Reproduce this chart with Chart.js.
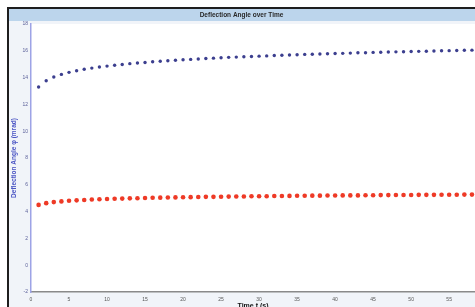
<!DOCTYPE html>
<html>
<head>
<meta charset="utf-8">
<script src="https://cdn.jsdelivr.net/npm/chart.js@4.4.0/dist/chart.umd.min.js"></script>
<style>
    html, body { margin: 0; padding: 0; background: #ffffff; }
    #wrap { width: 475px; height: 307px; position: relative; }
</style>
</head>
<body>
<div id="wrap"><canvas id="angleChart"></canvas></div>
<script>
// time in seconds
const timeS = [1, 2, 3, 4, 5, 6, 7, 8, 9, 10, 11, 12, 13, 14, 15, 16, 17, 18, 19, 20,
    21, 22, 23, 24, 25, 26, 27, 28, 29, 30, 31, 32, 33, 34, 35, 36, 37, 38, 39, 40,
    41, 42, 43, 44, 45, 46, 47, 48, 49, 50, 51, 52, 53, 54, 55, 56, 57, 58];

// upper series (blue)
const upperAngle = [13.30, 13.77, 14.04, 14.24, 14.39, 14.51, 14.62, 14.71, 14.79, 14.86,
    14.92, 14.98, 15.04, 15.09, 15.13, 15.18, 15.22, 15.26, 15.29, 15.33,
    15.36, 15.39, 15.42, 15.45, 15.48, 15.51, 15.53, 15.56, 15.58, 15.60,
    15.62, 15.65, 15.67, 15.69, 15.71, 15.73, 15.74, 15.76, 15.78, 15.80,
    15.81, 15.83, 15.85, 15.86, 15.88, 15.89, 15.91, 15.92, 15.93, 15.95,
    15.96, 15.97, 15.99, 16.00, 16.01, 16.02, 16.04, 16.05];

// lower series (red)
const lowerAngle = [4.50, 4.63, 4.71, 4.76, 4.81, 4.84, 4.87, 4.90, 4.92, 4.94,
    4.96, 4.97, 4.99, 5.00, 5.01, 5.03, 5.04, 5.05, 5.06, 5.07,
    5.08, 5.09, 5.10, 5.10, 5.11, 5.12, 5.13, 5.13, 5.14, 5.15,
    5.15, 5.16, 5.16, 5.17, 5.18, 5.18, 5.19, 5.19, 5.20, 5.20,
    5.21, 5.21, 5.21, 5.22, 5.22, 5.23, 5.23, 5.24, 5.24, 5.24,
    5.25, 5.25, 5.25, 5.26, 5.26, 5.26, 5.27, 5.27];

const yTicks = [-2, 0, 2, 4, 6, 8, 10, 12, 14, 16, 18];
const xTicks = [0, 5, 10, 15, 20, 25, 30, 35, 40, 45, 50, 55];

function toPoints(xs, ys) {
    return xs.map((x, i) => ({ x: x, y: ys[i] }));
}

// window frame, title bar and grey margins behind the plot
const framePlugin = {
    id: 'frame',
    beforeDraw(chart) {
        const c = chart.ctx;
        const a = chart.chartArea;
        c.save();
        c.fillStyle = '#ffffff';
        c.fillRect(0, 0, chart.width, chart.height);
        c.fillStyle = '#f1f4f9';
        c.fillRect(9, 9, chart.width - 9, chart.height - 9);
        c.fillStyle = '#ffffff';
        c.fillRect(a.left, a.top, a.right - a.left, a.bottom - a.top);
        c.fillStyle = '#bcd5ec';
        c.fillRect(9, 9, chart.width - 9, 12);
        c.fillStyle = '#1e1e1e';
        c.fillRect(7, 7, chart.width - 7, 2);
        c.fillRect(7, 7, 2, chart.height - 7);
        c.restore();
    }
};

document.addEventListener("DOMContentLoaded", function () {
    const ctx = document.getElementById('angleChart').getContext('2d');
    new Chart(ctx, {
        type: 'scatter',
        data: {
            datasets: [{
                label: 'upper',
                data: toPoints(timeS, upperAngle),
                backgroundColor: '#3c3f8f',
                borderColor: '#3c3f8f',
                pointRadius: 1.7,
                pointBorderWidth: 0,
                showLine: false
            }, {
                label: 'lower',
                data: toPoints(timeS, lowerAngle),
                backgroundColor: '#ee3a26',
                borderColor: '#ee3a26',
                pointRadius: 2.3,
                pointBorderWidth: 0,
                showLine: false
            }]
        },
        options: {
            responsive: true,
            maintainAspectRatio: false,
            animation: false,
            layout: { autoPadding: false, padding: { left: 8, right: 0, top: 0, bottom: 0 } },
            plugins: {
                legend: { display: false },
                tooltip: { enabled: false },
                title: {
                    display: true,
                    text: 'Deflection Angle over Time',
                    color: '#2a2a2a',
                    font: { family: 'Arial, Liberation Sans', size: 6.5, weight: 'bold' },
                    padding: { top: 11, bottom: 5.2 }
                }
            },
            scales: {
                x: {
                    type: 'linear',
                    min: 0,
                    max: 58.4,
                    afterBuildTicks: function (axis) {
                        axis.ticks = xTicks.map(v => ({ value: v }));
                    },
                    afterFit: function (axis) { axis.height = 15; },
                    grid: { display: false, drawTicks: false },
                    border: { display: true, color: '#8a8a8a', width: 1.5, dash: [1.5, 1] },
                    ticks: {
                        color: '#555555',
                        font: { family: 'Arial, Liberation Sans', size: 5 },
                        padding: 5,
                        maxRotation: 0,
                        autoSkip: false
                    },
                    title: {
                        display: true,
                        text: 'Time t (s)',
                        color: '#111111',
                        font: { family: 'Arial, Liberation Sans', size: 7, weight: 'bold' },
                        padding: { top: 0, bottom: -3 }
                    }
                },
                y: {
                    type: 'linear',
                    min: -2,
                    max: 18,
                    afterBuildTicks: function (axis) {
                        axis.ticks = yTicks.map(v => ({ value: v }));
                    },
                    afterFit: function (axis) { axis.width = 23; },
                    grid: { display: false, drawTicks: false },
                    border: { display: true, color: '#9da3e6', width: 1.5 },
                    ticks: {
                        color: '#5a5f99',
                        font: { family: 'Arial, Liberation Sans', size: 5 },
                        padding: 3,
                        autoSkip: false
                    },
                    title: {
                        display: true,
                        text: 'Deflection Angle φ (mrad)',
                        color: '#4b55c4',
                        font: { family: 'Arial, Liberation Sans', size: 6.5, weight: 'bold' },
                        padding: { top: 2, bottom: 0 }
                    }
                }
            }
        },
        plugins: [framePlugin]
    });
});
</script>
</body>
</html>
